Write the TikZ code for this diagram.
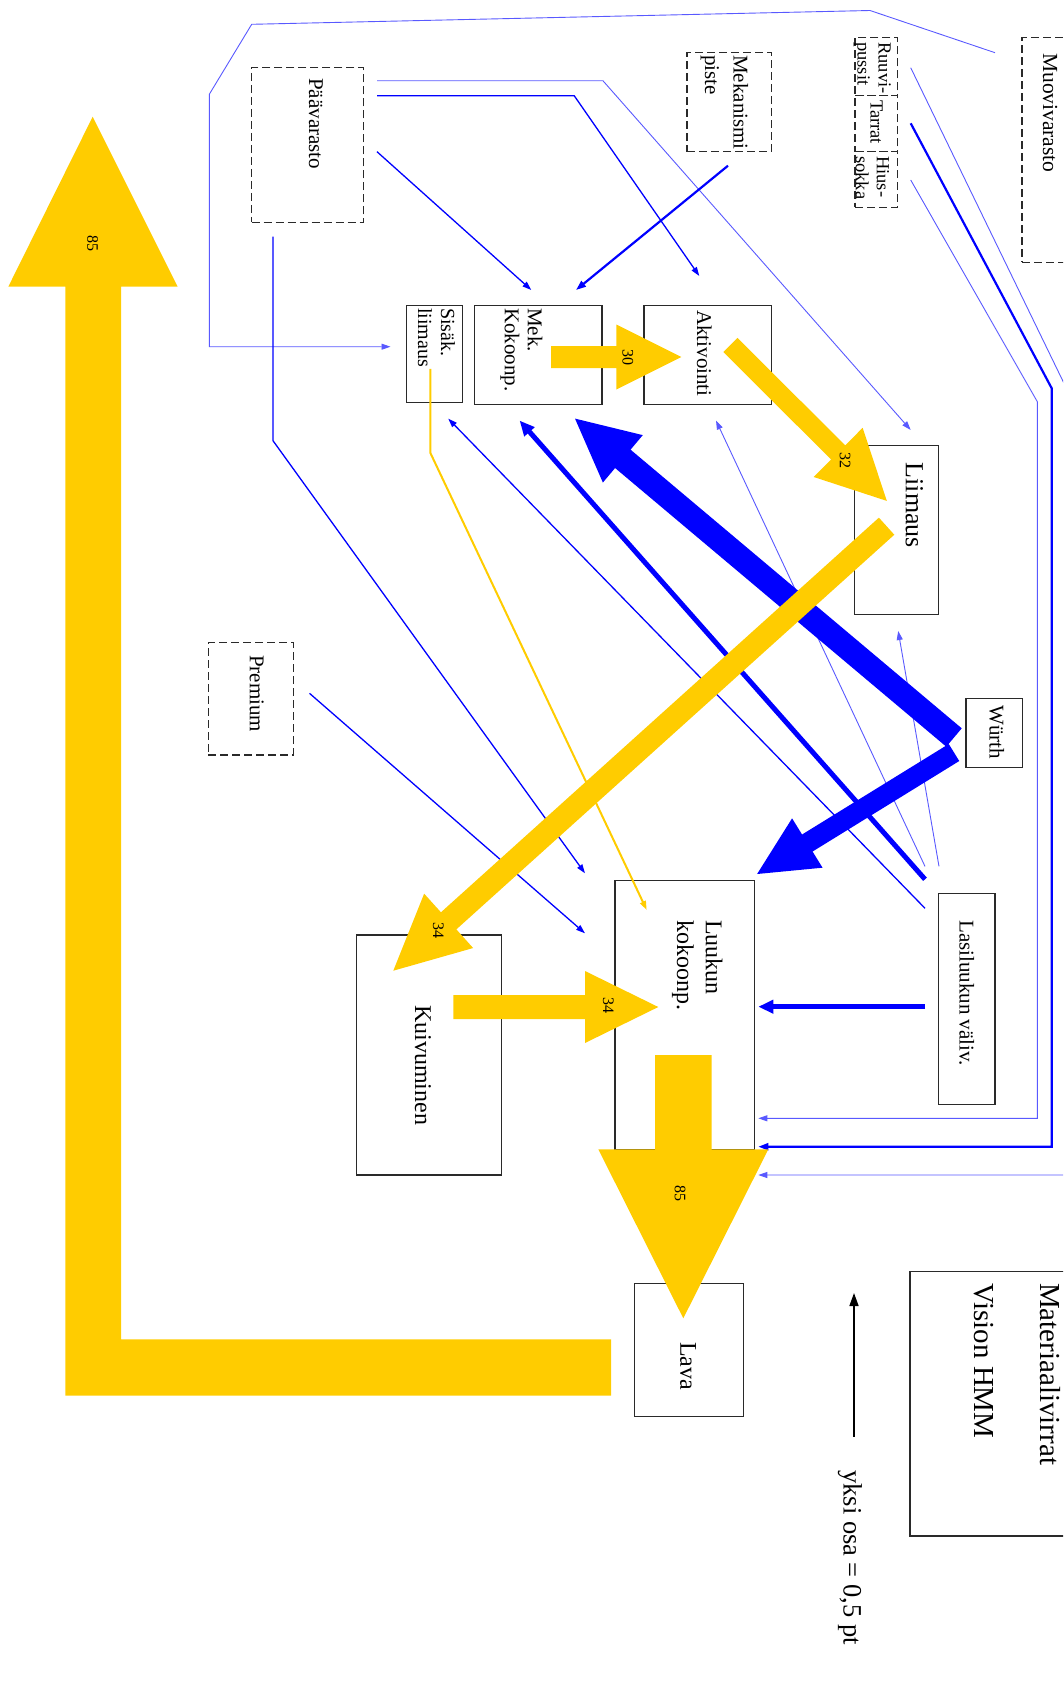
\documentclass[tikz,border=0pt]{standalone}
\usepackage{fontspec}
\setmainfont{Liberation Serif}
\usetikzlibrary{calc,arrows.meta}
\definecolor{flowyellow}{HTML}{FFCC00}
\definecolor{flowblue}{HTML}{0000FF}
\definecolor{frame}{HTML}{2A2A2A}

% block arrow: #1 fill style, #2 tail, #3 tip, #4 shaft half width, #5 head half width, #6 head length
\newcommand\flowarrow[6]{%
  \coordinate (fa-hb) at ($(#3)!#6!(#2)$);
  \fill[#1] ($(#2)!#4!90:(#3)$) -- ($(fa-hb)!#4!90:(#3)$) -- ($(fa-hb)!#5!90:(#3)$) -- (#3)
    -- ($(fa-hb)!#5!-90:(#3)$) -- ($(fa-hb)!#4!-90:(#3)$) -- ($(#2)!#4!-90:(#3)$) -- cycle;
}

\begin{document}
\begin{tikzpicture}[x=1pt,y=-1pt,
  box/.style={draw=frame, line width=1.5pt, inner sep=0pt},
  dbox/.style={box, dash pattern=on 8pt off 4pt},
  lbl/.style={rotate=-90, anchor=west, inner sep=0pt, align=left, font=\fontsize{21}{23}\selectfont},
  num/.style={rotate=-90, inner sep=0pt, font=\fontsize{16}{16}\selectfont},
  faint/.style={draw=flowblue!65, line width=0.9pt, -{Triangle[length=9pt,width=6pt]}},
  feed/.style={draw=flowblue, line width=1.3pt, -{Triangle[length=9pt,width=6pt]}},
  feedbold/.style={draw=flowblue, line width=2.2pt, -{Triangle[length=10pt,width=7pt]}},
  feedheavy/.style={draw=flowblue, line width=5pt, -{Triangle[length=15pt,width=13pt]}},
  glue/.style={draw=flowyellow, line width=2pt, -{Triangle[length=9pt,width=6pt]}},
  yflow/.style={fill=flowyellow},
  bflow/.style={fill=flowblue}
]
\useasboundingbox (0,0) rectangle (1063,1686);
\clip (0,0) rectangle (1063,1686);

% ---------- boxes ----------
\node[dbox, minimum width=112.1pt, minimum height=154.6pt] (paa) at (307.65,145) {};
\node[dbox, minimum width=84.3pt, minimum height=99pt] (mekp) at (729.15,102.2) {};
\node[box, minimum width=55.8pt, minimum height=97pt] (sis) at (434.5,354.2) {};
\node[box, minimum width=127.3pt, minimum height=98.6pt] (mek) at (538.35,355) {};
\node[box, minimum width=127.3pt, minimum height=98.6pt] (akt) at (707.65,355) {};
\node[box, minimum width=84pt, minimum height=169.2pt] (lii) at (896.6,530) {};
\node[box, minimum width=56.7pt, minimum height=69pt] (wur) at (994.35,732.8) {};
\node[box, minimum width=56.7pt, minimum height=211pt] (las) at (966.65,998.8) {};
\node[box, minimum width=139.3pt, minimum height=269.3pt] (luk) at (684.65,1015.35) {};
\node[box, minimum width=145pt, minimum height=240pt] (kui) at (429.2,1055) {};
\node[box, minimum width=109pt, minimum height=133.4pt] (lava) at (688.8,1350) {};
\node[dbox, minimum width=85pt, minimum height=112.3pt] (prem) at (250.8,698.85) {};
\node[dbox, minimum width=58pt, minimum height=224.6pt] (muo) at (1051,150) {};
\node[dbox, minimum width=42.7pt, minimum height=58pt] (ruu) at (876.35,66.7) {};
\node[dbox, minimum width=42.7pt, minimum height=56pt] (tar) at (876.35,123.7) {};
\node[dbox, minimum width=42.7pt, minimum height=55.6pt] (hius) at (876.35,179.5) {};
\node[box, minimum width=170pt, minimum height=264.3pt] (mat) at (995,1403.85) {};

% ---------- connector points ----------
\coordinate (muoOut) at (995,52.7);
\coordinate (topR) at (870,10.5);
\coordinate (topL) at (251.7,24.3);
\coordinate (sideT) at (209.3,94.3);
\coordinate (sideB) at (209.3,346.7);
\coordinate (sisIn) at (390.5,346.7);

\coordinate (paaA) at (377,80.7);
\coordinate (paaAk) at (602.9,80.7);
\coordinate (liiIn) at (910.7,430);
\coordinate (paaB) at (377,95.7);
\coordinate (paaBk) at (574.2,95.7);
\coordinate (aktIn) at (699.3,276);
\coordinate (paaC) at (377,151.7);
\coordinate (mekInA) at (531.3,290);
\coordinate (mekpOut) at (728,165.7);
\coordinate (mekInB) at (576,290);
\coordinate (paaD) at (273,236.7);
\coordinate (paaDk) at (273,440.7);
\coordinate (lukInA) at (585,873.3);
\coordinate (premOut) at (309.5,693.3);
\coordinate (lukInB) at (585,933.3);

\coordinate (lasA) at (925,879.3);
\coordinate (mekInC) at (519.6,420.6);
\coordinate (lasB) at (925,908.3);
\coordinate (sisInB) at (448.2,418.6);
\coordinate (lasC) at (925,866.4);
\coordinate (aktInB) at (716,420.5);
\coordinate (lasD) at (939,866.4);
\coordinate (liiInB) at (898.2,631);
\coordinate (lasE) at (925,1006.7);
\coordinate (lukInC) at (758.3,1006.7);

\coordinate (hiusOut) at (910.7,180);
\coordinate (hiusK1) at (1037.3,401.7);
\coordinate (hiusK2) at (1037.3,1118.3);
\coordinate (lukInD) at (758.3,1118.3);
\coordinate (tarOut) at (910.7,123.3);
\coordinate (tarK1) at (1051.7,388.3);
\coordinate (tarK2) at (1051.7,1146.7);
\coordinate (lukInE) at (758.3,1146.7);
\coordinate (ruuOut) at (910.7,67.7);
\coordinate (ruuK1) at (1075,406);
\coordinate (ruuK2) at (1075,1175);
\coordinate (lukInF) at (758.3,1175);

\coordinate (sisOut) at (430.4,368.9);
\coordinate (sisK) at (430.4,453);
\coordinate (lukInG) at (646.7,910);

% ---------- blue material flows ----------
\draw[faint] (muoOut) -- (topR) -- (topL) -- (sideT) -- (sideB) -- (sisIn);
\draw[faint] (paaA) -- (paaAk) -- (liiIn);
\draw[feed] (paaB) -- (paaBk) -- (aktIn);
\draw[feed] (paaC) -- (mekInA);
\draw[feedbold] (mekpOut) -- (mekInB);
\draw[feed] (paaD) -- (paaDk) -- (lukInA);
\draw[feed] (premOut) -- (lukInB);
\draw[feedheavy] (lasA) -- (mekInC);
\draw[feed] (lasB) -- (sisInB);
\draw[faint] (lasC) -- (aktInB);
\draw[faint] (lasD) -- (liiInB);
\draw[feedheavy] (lasE) -- (lukInC);
\draw[faint] (hiusOut) -- (hiusK1) -- (hiusK2) -- (lukInD);
\draw[feedbold] (tarOut) -- (tarK1) -- (tarK2) -- (lukInE);
\draw[faint] (ruuOut) -- (ruuK1) -- (ruuK2) -- (lukInF);
\draw[glue] (sisOut) -- (sisK) -- (lukInG);

% Wurth supplies
\coordinate (wurA) at (954,737.5);
\coordinate (mekTip) at (575,418.6);
\coordinate (wurB) at (954,752.5);
\coordinate (lukTip) at (757.1,874);
\flowarrow{bflow}{wurA}{mekTip}{12pt}{31pt}{62.5pt}
\flowarrow{bflow}{wurB}{lukTip}{10pt}{29pt}{59pt}

% ---------- yellow main flow ----------
\coordinate (f30a) at (551,357);
\coordinate (f30b) at (681.3,357);
\coordinate (f32a) at (730.4,345);
\coordinate (f32b) at (886.8,500.9);
\coordinate (f34a) at (886.6,526.2);
\coordinate (f34b) at (393.3,970.7);
\coordinate (f34c) at (453.3,1007);
\coordinate (f34d) at (658.3,1007);
\coordinate (f85a) at (683.3,1055);
\coordinate (f85b) at (683.3,1318.3);
\flowarrow{yflow}{f30a}{f30b}{11pt}{32.5pt}{65pt}
\flowarrow{yflow}{f32a}{f32b}{10pt}{34.7pt}{68.7pt}
\flowarrow{yflow}{f34a}{f34b}{11.5pt}{36.6pt}{74.5pt}
\flowarrow{yflow}{f34c}{f34d}{12pt}{36pt}{73.3pt}
\flowarrow{yflow}{f85a}{f85b}{28.3pt}{85pt}{169pt}

% return flow from the pallet
\coordinate (retA) at (611,1339.3);
\coordinate (retB) at (611,1395.7);
\coordinate (retC) at (65.3,1395.7);
\coordinate (retD) at (65.3,286.7);
\coordinate (retE) at (8.3,286.7);
\coordinate (retTip) at (92.7,116.7);
\coordinate (retF) at (177.7,286.7);
\coordinate (retG) at (121.2,286.7);
\coordinate (retH) at (121.2,1339.3);
\fill[yflow] (retA) -- (retB) -- (retC) -- (retD) -- (retE) -- (retTip) -- (retF) -- (retG) -- (retH) -- cycle;

% ---------- flow quantities ----------
\node[num] (n30) at (627.8,357) {30};
\node[num] (n32) at (845,460.7) {32};
\node[num] (n34a) at (438.3,930) {34};
\node[num] (n34b) at (608.3,1005) {34};
\node[num] (n85a) at (680,1193) {85};
\node[num] (n85b) at (92.7,243) {85};

% ---------- labels ----------
\node[lbl] (paaT) at (315.9,78) {Päävarasto};
\node[lbl, font=\fontsize{21}{28.7}\selectfont] (mekpT) at (724.4,55) {Mekanismi\\piste};
\node[lbl, font=\fontsize{20}{23}\selectfont] (sisT) at (436.5,308) {Sisäk.\\liimaus};
\node[lbl] (mekT) at (521.5,308) {Mek.\\Kokoonp.};
\node[lbl] (aktT) at (704.3,310) {Aktivointi};
\node[lbl, font=\fontsize{26}{28}\selectfont] (liiT) at (914.3,462.6) {Liimaus};
\node[lbl] (wurT) at (996.7,705) {Würth};
\node[lbl] (lasT) at (966.7,920) {Lasiluukun väliv.};
\node[lbl, font=\fontsize{24}{28.7}\selectfont] (lukT) at (697.3,920) {Luukun\\kokoonp.};
\node[lbl, font=\fontsize{24}{26}\selectfont] (kuiT) at (423,1005) {Kuivuminen};
\node[lbl, font=\fontsize{24}{26}\selectfont] (lavaT) at (688,1342) {Lava};
\node[lbl] (premT) at (256.7,655) {Premium};
\node[lbl, font=\fontsize{21.5}{24}\selectfont] (muoT) at (1050,53) {Muovivarasto};
\node[lbl, font=\fontsize{18.5}{21}\selectfont] (ruuT) at (872.3,42) {Ruuvi-\\pussit};
\node[lbl, font=\fontsize{18.5}{21}\selectfont] (tarT) at (876.7,100) {Tarrat};
\node[lbl, font=\fontsize{18.5}{21}\selectfont] (hiusT) at (872.3,156) {Hius-\\sokka};
\node[lbl, font=\fontsize{29}{33}\selectfont] (matT) at (1017.5,1283) {Materiaalivirrat\\[33pt]Vision HMM};

% scale legend
\coordinate (legTail) at (854,1436.7);
\coordinate (legHead) at (854,1293);
\draw[line width=1.5pt, -{Triangle[length=13pt,width=9pt]}] (legTail) -- (legHead);
\node[lbl, font=\fontsize{26.5}{30}\selectfont] (legT) at (850,1470) {yksi osa = 0,5 pt};
\end{tikzpicture}
\end{document}
